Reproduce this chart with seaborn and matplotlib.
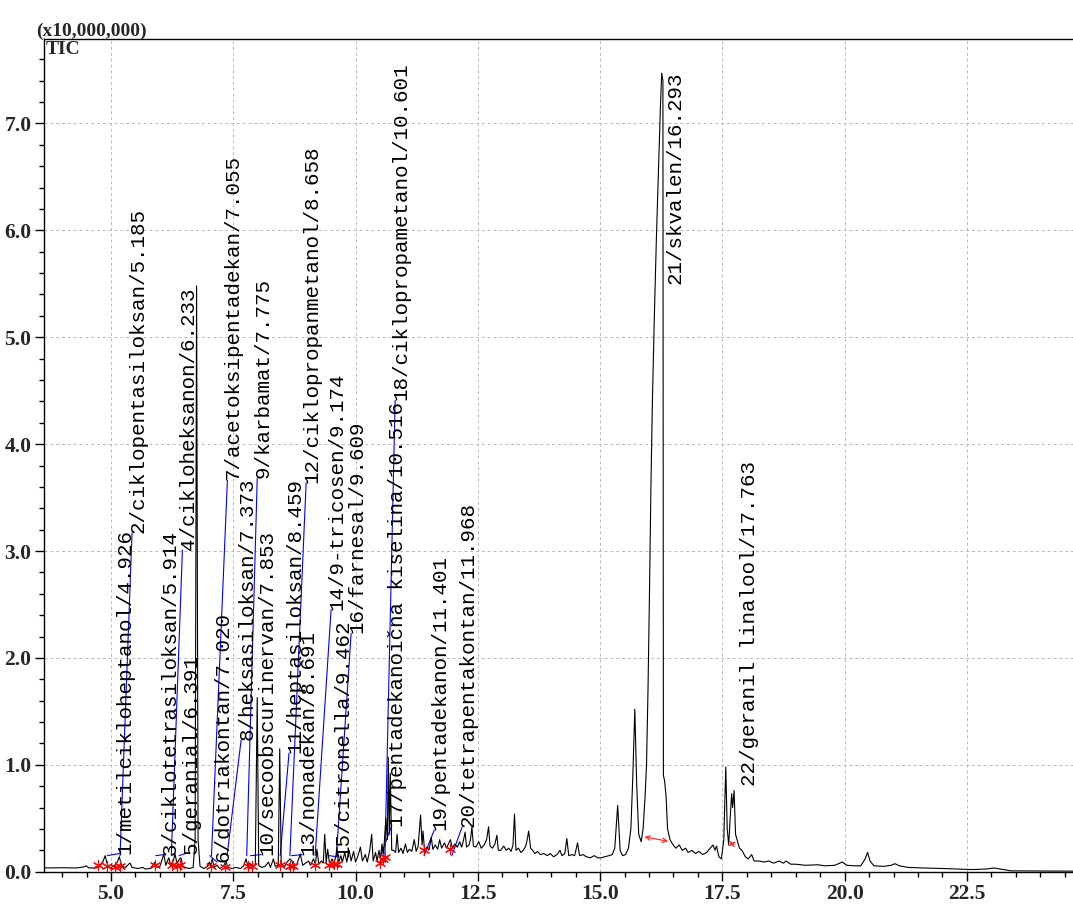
import matplotlib
matplotlib.use("Agg")
import matplotlib.pyplot as plt
import seaborn as sns
import pandas as pd
from matplotlib.ticker import MultipleLocator, FormatStrFormatter

# ---------------- data (retention time in min, TIC in x10,000,000) ----------------
rt = [3.63, 4.00, 4.30, 4.45, 4.49, 4.55, 4.70, 4.78, 4.84, 4.88, 4.93, 4.98, 5.05, 5.12, 5.17, 5.22,
      5.30, 5.36, 5.39, 5.43, 5.55, 5.65, 5.70, 5.80, 5.86, 5.90, 5.94, 6.00, 6.05, 6.08, 6.12, 6.18,
      6.22, 6.27, 6.31, 6.35, 6.40, 6.43, 6.47, 6.55, 6.60, 6.68, 6.72, 6.75, 6.78, 6.82, 6.90, 6.97,
      7.01, 7.04, 7.07, 7.11, 7.17, 7.22, 7.30, 7.35, 7.39, 7.48, 7.55, 7.65, 7.72, 7.76, 7.80, 7.84,
      7.88, 7.95, 7.99, 8.02, 8.08, 8.15, 8.22, 8.26, 8.32, 8.36, 8.42, 8.45, 8.48, 8.55, 8.60, 8.66,
      8.70, 8.74, 8.80, 8.87, 8.92, 8.98, 9.04, 9.08, 9.14, 9.18, 9.21, 9.25, 9.30, 9.34, 9.37, 9.40,
      9.43, 9.47, 9.52, 9.56, 9.60, 9.62, 9.65, 9.70, 9.73, 9.78, 9.82, 9.87, 9.91, 9.96, 10.00, 10.05,
      10.10, 10.14, 10.20, 10.24, 10.29, 10.33, 10.36, 10.41, 10.44, 10.48, 10.51, 10.54, 10.57, 10.62,
      10.65, 10.67, 10.69, 10.71, 10.74, 10.78, 10.82, 10.85, 10.88, 10.93, 10.97, 11.02, 11.06, 11.10,
      11.15, 11.20, 11.24, 11.28, 11.33, 11.36, 11.38, 11.41, 11.46, 11.50, 11.55, 11.58, 11.63, 11.68,
      11.72, 11.76, 11.82, 11.86, 11.90, 11.94, 11.98, 12.03, 12.08, 12.13, 12.17, 12.21, 12.24, 12.27,
      12.32, 12.35, 12.38, 12.41, 12.46, 12.52, 12.57, 12.63, 12.68, 12.72, 12.75, 12.80, 12.85, 12.89,
      12.92, 12.97, 13.03, 13.08, 13.13, 13.18, 13.22, 13.25, 13.28, 13.33, 13.38, 13.43, 13.48, 13.51,
      13.54, 13.58, 13.62, 13.67, 13.72, 13.78, 13.85, 13.92, 13.98, 14.05, 14.12, 14.18, 14.22, 14.28,
      14.32, 14.36, 14.42, 14.48, 14.54, 14.58, 14.65, 14.72, 14.80, 14.88, 14.95, 15.02, 15.10, 15.18,
      15.25, 15.30, 15.36, 15.41, 15.46, 15.52, 15.58, 15.63, 15.67, 15.71, 15.75, 15.79, 15.84, 15.88,
      15.92, 15.95, 15.98, 16.01, 16.04, 16.07, 16.11, 16.15, 16.19, 16.23, 16.26, 16.285, 16.295, 16.32,
      16.35, 16.38, 16.43, 16.48, 16.55, 16.62, 16.68, 16.75, 16.80, 16.88, 16.95, 17.02, 17.10, 17.18,
      17.25, 17.31, 17.35, 17.38, 17.43, 17.48, 17.53, 17.57, 17.60, 17.63, 17.66, 17.69, 17.71, 17.74,
      17.77, 17.80, 17.85, 17.90, 17.97, 18.03, 18.10, 18.15, 18.25, 18.35, 18.45, 18.55, 18.66, 18.75,
      18.80, 18.90, 19.00, 19.20, 19.45, 19.60, 19.80, 19.95, 20.05, 20.20, 20.33, 20.42, 20.47, 20.52,
      20.60, 20.80, 20.95, 21.03, 21.12, 21.30, 21.60, 22.00, 22.30, 22.60, 22.90, 23.05, 23.12, 23.25,
      23.40, 24.67]
tic = [0.035, 0.037, 0.035, 0.045, 0.055, 0.035, 0.035, 0.06, 0.10, 0.15, 0.06, 0.035, 0.05, 0.08, 0.14, 0.05,
       0.04, 0.07, 0.08, 0.04, 0.03, 0.04, 0.025, 0.03, 0.06, 0.09, 0.04, 0.05, 0.12, 0.165, 0.06, 0.13,
       0.06, 0.10, 0.165, 0.07, 0.12, 0.13, 0.05, 0.035, 0.03, 0.04, 0.30, 5.48, 0.30, 0.05, 0.03, 0.05,
       0.09, 0.06, 0.12, 0.04, 0.06, 0.03, 0.05, 0.10, 0.04, 0.03, 0.04, 0.03, 0.06, 0.12, 0.05, 0.08,
       0.04, 0.06, 1.63, 0.06, 0.04, 0.05, 0.09, 0.04, 0.12, 0.05, 0.06, 1.15, 0.06, 0.05, 0.09, 0.12,
       0.10, 0.05, 0.07, 0.165, 0.06, 0.08, 0.10, 0.06, 0.12, 0.07, 0.21, 0.07, 0.10, 0.08, 0.35, 0.08,
       0.21, 0.07, 0.12, 0.08, 0.15, 0.23, 0.08, 0.15, 0.09, 0.18, 0.09, 0.20, 0.10, 0.19, 0.09, 0.15,
       0.23, 0.10, 0.16, 0.09, 0.20, 0.35, 0.10, 0.18, 0.10, 0.20, 0.12, 0.26, 0.15, 0.50,
       0.30, 1.07, 0.35, 0.92, 0.20, 0.20, 0.18, 0.35, 0.18, 0.22, 0.17, 0.26, 0.18, 0.21,
       0.19, 0.30, 0.19, 0.24, 0.53, 0.25, 0.38, 0.20, 0.23, 0.20, 0.32, 0.21, 0.25, 0.21,
       0.30, 0.22, 0.27, 0.22, 0.26, 0.30, 0.22, 0.26, 0.23, 0.28, 0.23, 0.30, 0.37, 0.23,
       0.25, 0.30, 0.42, 0.24, 0.23, 0.28, 0.22, 0.25, 0.30, 0.42, 0.24, 0.22, 0.26, 0.34,
       0.20, 0.20, 0.24, 0.20, 0.22, 0.19, 0.25, 0.54, 0.20, 0.22, 0.18, 0.20, 0.24, 0.30,
       0.38, 0.22, 0.20, 0.17, 0.19, 0.16, 0.17, 0.15, 0.17, 0.14, 0.16, 0.20, 0.15, 0.17,
       0.31, 0.15, 0.16, 0.15, 0.27, 0.15, 0.16, 0.14, 0.13, 0.15, 0.13, 0.13, 0.14, 0.15,
       0.16, 0.22, 0.62, 0.20, 0.15, 0.16, 0.22, 0.40, 0.90, 1.52, 0.80, 0.35, 0.28, 0.40,
       0.70, 1.00, 1.70, 2.60, 3.60, 4.40, 5.20, 5.90, 6.50, 7.10, 7.47, 7.40, 0.90, 0.85,
       0.70, 0.40, 0.30, 0.26, 0.22, 0.25, 0.20, 0.22, 0.18, 0.20, 0.17, 0.19, 0.16, 0.18,
       0.22, 0.25, 0.20, 0.24, 0.14, 0.12, 0.30, 0.98, 0.40, 0.25, 0.50, 0.73, 0.60, 0.76,
       0.35, 0.30, 0.22, 0.20, 0.14, 0.12, 0.16, 0.10, 0.10, 0.09, 0.10, 0.08, 0.10, 0.08,
       0.10, 0.07, 0.07, 0.06, 0.065, 0.055, 0.06, 0.09, 0.06, 0.055, 0.055, 0.12, 0.18, 0.10,
       0.055, 0.05, 0.06, 0.075, 0.055, 0.04, 0.035, 0.03, 0.025, 0.02, 0.025, 0.035, 0.03, 0.02,
       0.008, 0.005]

# peak identifications
peak_labels = ["1/metilcikloheptanol/4.926", "2/ciklopentasiloksan/5.185", "3/ciklotetrasiloksan/5.914",
               "4/cikloheksanon/6.233", "5/geranial/6.391", "6/dotriakontan/7.020",
               "7/acetoksipentadekan/7.055", "8/heksasiloksan/7.373", "9/karbamat/7.775",
               "10/secoobscurinervan/7.853", "11/heptasiloksan/8.459", "12/ciklopropanmetanol/8.658",
               "13/nonadekan/8.691", "14/9-tricosen/9.174", "15/citronella/9.462", "16/farnesal/9.609",
               "17/pentadekanoična kiselina/10.516", "18/ciklopropametanol/10.601",
               "19/pentadekanon/11.401", "20/tetrapentakontan/11.968", "21/skvalen/16.293",
               "22/geranil linalool/17.763"]
peak_rt = [4.926, 5.185, 5.914, 6.233, 6.391, 7.020, 7.055, 7.373, 7.775, 7.853, 8.459, 8.658,
           8.691, 9.174, 9.462, 9.609, 10.516, 10.601, 11.401, 11.968, 16.293, 17.763]

# integration markers (red)
mark_rt = [4.74, 4.91, 5.08, 5.18, 5.90, 6.24, 6.34, 6.41, 7.04, 7.33, 7.81, 7.88, 8.46, 8.66,
           8.73, 9.17, 9.45, 9.55, 9.62, 10.51, 10.56, 10.60, 11.40, 11.94]
mark_val = [0.06, 0.05, 0.04, 0.05, 0.06, 0.06, 0.05, 0.06, 0.05, 0.04, 0.05, 0.05, 0.06, 0.05,
            0.05, 0.06, 0.06, 0.07, 0.07, 0.08, 0.12, 0.14, 0.20, 0.21]
base_rt = [(15.85, 16.45), (17.58, 17.82)]
base_val = [(0.33, 0.28), (0.27, 0.25)]

# ---------------- layout of labels (data coords: column centre, bottom) ----------------
lbl_x = [5.29, 5.55, 6.21, 6.58, 6.64, 7.29, 7.50, 7.78, 8.11, 8.19, 8.76, 9.11, 9.03, 9.62,
         9.74, 10.03, 10.85, 10.93, 11.73, 12.30, 16.53, 18.06]
lbl_y = [0.17, 3.17, 0.16, 3.01, 0.17, 0.09, 3.66, 1.23, 3.68, 0.16, 1.11, 3.64, 0.16, 2.45,
         0.14, 2.23, 0.42, 4.41, 0.39, 0.42, 5.50, 0.80]
leader = [True] * 20 + [False, False]

# ---------------- figure ----------------
sns.set_theme(style="white")
plt.rcParams["font.family"] = ["Liberation Serif", "DejaVu Serif"]

W, H = 1073, 907
fig = plt.figure(figsize=(W / 100, H / 100), dpi=100)
ax = fig.add_axes([44 / W, 35.3 / H, (W - 44) / W, (871.7 - 39) / H])

df = pd.DataFrame({"rt": rt, "tic": tic})
sns.lineplot(data=df, x="rt", y="tic", ax=ax, color="black", linewidth=0.8,
             estimator=None, sort=False, zorder=3)

# leader lines
for px, lx, ly, use in zip(peak_rt, lbl_x, lbl_y, leader):
    if use:
        ax.plot([px, lx - 0.12], [0.15, ly], color="#0000ff", linewidth=0.8, zorder=2)

# labels
for txt, lx, ly in zip(peak_labels, lbl_x, lbl_y):
    ax.text(lx, ly, txt, rotation=90, ha="center", va="bottom",
            fontsize=15, family=["Liberation Mono", "DejaVu Sans Mono"], color="black", zorder=4)

# integration marks
ax.scatter(mark_rt, mark_val, marker=(6, 2, 0), s=55, color="red", linewidths=0.8, zorder=5)
for (a, b), (va_, vb_) in zip(base_rt, base_val):
    ax.annotate("", xy=(a, va_), xytext=(b, vb_),
                arrowprops=dict(arrowstyle="<->", color="#ff3030", lw=0.9, mutation_scale=8), zorder=5)

ax.set_xlim(3.63, 24.67)
ax.set_ylim(0, 7.79)
ax.xaxis.set_major_locator(MultipleLocator(2.5))
ax.xaxis.set_minor_locator(MultipleLocator(0.5))
ax.yaxis.set_major_locator(MultipleLocator(1.0))
ax.yaxis.set_minor_locator(MultipleLocator(0.2))
ax.xaxis.set_major_formatter(FormatStrFormatter("%.1f"))
ax.yaxis.set_major_formatter(FormatStrFormatter("%.1f"))
ax.set_xlabel("")
ax.set_ylabel("")

ax.tick_params(axis="both", which="major", direction="out", length=6.5, width=1, color="black",
               labelsize=15.5, pad=2.5, bottom=True, left=True)
ax.tick_params(axis="both", which="minor", direction="out", length=3.5, width=1, color="black",
               bottom=True, left=True)
for lab in ax.get_xticklabels() + ax.get_yticklabels():
    lab.set_fontweight("bold")
    lab.set_family("Liberation Serif")

ax.grid(True, which="major", color="#b8b8b8", linestyle=(0, (3, 3)), linewidth=0.7)
for side in ["left", "bottom", "top"]:
    ax.spines[side].set_visible(True)
    ax.spines[side].set_color("black")
    ax.spines[side].set_linewidth(1.0)
ax.spines["right"].set_visible(False)

ax.text(0.002, 0.998, "TIC", transform=ax.transAxes, ha="left", va="top",
        fontsize=14, fontweight="bold", family="Liberation Serif")
fig.text(36 / W, 1 - 36 / H, "(x10,000,000)", ha="left", va="baseline",
         fontsize=14, fontweight="bold", family="Liberation Serif")

fig.savefig("out.png", dpi=100)
